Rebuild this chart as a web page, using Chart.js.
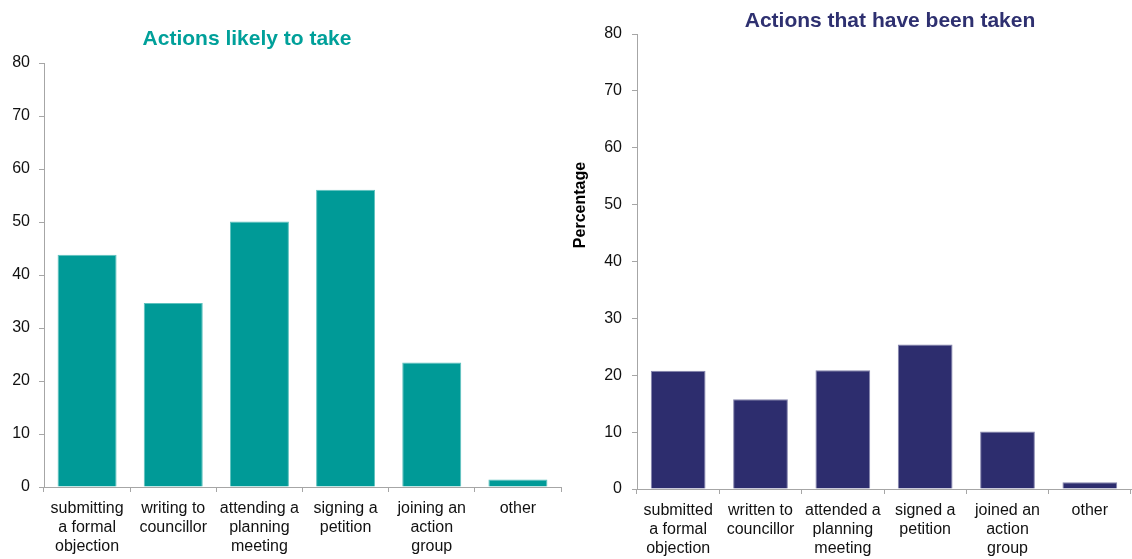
<!DOCTYPE html>
<html>
<head>
<meta charset="utf-8">
<script src="https://cdn.jsdelivr.net/npm/chart.js@4/dist/chart.umd.min.js"></script>
<style>
  html, body { margin: 0; padding: 0; background: #fff; }
  #wrap { position: relative; width: 1132px; height: 559px; }
  canvas { position: absolute; top: 0; }
  #likely { left: 0; }
  #taken { left: 566px; }
</style>
</head>
<body>
<div id="wrap">
  <canvas id="likely" width="566" height="559"></canvas>
  <canvas id="taken" width="566" height="559"></canvas>
</div>
<script>
// categories (tick labels split onto lines)
const likelyLabels = [
  ["submitting", "a formal", "objection"],
  ["writing to", "councillor"],
  ["attending a", "planning", "meeting"],
  ["signing a", "petition"],
  ["joining an", "action", "group"],
  ["other"]
];
const takenLabels = [
  ["submitted", "a formal", "objection"],
  ["written to", "councillor"],
  ["attended a", "planning", "meeting"],
  ["signed a", "petition"],
  ["joined an", "action", "group"],
  ["other"]
];

// percentages
const likelyValues = [43.8, 34.7, 50.1, 56.1, 23.5, 1.4];
const takenValues = [20.8, 15.8, 20.9, 25.4, 10.1, 1.2];

const FONT = '"Liberation Sans", Arial, sans-serif';
const AXIS = "#a6a6a6";
const TEAL = "#009a97";
const NAVY = "#2d2d6e";

Chart.defaults.font.family = FONT;
Chart.defaults.font.size = 16;
Chart.defaults.color = "#111";

// heading text and the rotated axis caption drawn on the canvas
const textPlugin = {
  id: "headings",
  afterDraw(chart, args, opts) {
    const ctx = chart.ctx;
    ctx.save();
    ctx.font = "bold 21px " + FONT;
    ctx.fillStyle = opts.color;
    ctx.textAlign = "center";
    ctx.textBaseline = "alphabetic";
    ctx.fillText(opts.text, opts.x, opts.y);
    if (opts.yTitle) {
      ctx.translate(opts.yTitle.x, opts.yTitle.y);
      ctx.rotate(-Math.PI / 2);
      ctx.font = "bold 16px " + FONT;
      ctx.fillStyle = "#000";
      ctx.fillText(opts.yTitle.text, 0, 0);
    }
    ctx.restore();
  }
};

function makeChart(id, labels, values, color, edge, o) {
  return new Chart(document.getElementById(id), {
    type: "bar",
    data: {
      labels: labels,
      datasets: [{
        data: values,
        backgroundColor: color,
        borderColor: edge,
        borderWidth: 1,
        categoryPercentage: 1,
        barPercentage: o.bar
      }]
    },
    options: {
      responsive: false,
      animation: false,
      devicePixelRatio: 1,
      layout: { padding: { top: o.top, right: o.right, left: 0, bottom: 0 } },
      plugins: {
        legend: { display: false },
        tooltip: { enabled: false },
        headings: o.heading
      },
      scales: {
        x: {
          afterFit: s => { s.height = o.xHeight; },
          grid: { drawOnChartArea: false, drawTicks: true, tickLength: 5, color: AXIS, offset: true },
          border: { color: AXIS, width: 1 },
          ticks: { padding: 7, maxRotation: 0, autoSkip: false, font: { size: 16, lineHeight: 1.2 } }
        },
        y: {
          min: 0,
          max: 80,
          afterFit: s => { s.width = o.yWidth; },
          grid: { drawOnChartArea: false, drawTicks: true, tickLength: 5, color: AXIS },
          border: { color: AXIS, width: 1 },
          ticks: { stepSize: 10, padding: o.yPad, font: { size: 16 } }
        }
      }
    },
    plugins: [textPlugin]
  });
}

makeChart("likely", likelyLabels, likelyValues, TEAL, "#5ec2be", {
  bar: 0.685, top: 63, right: 5, xHeight: 72, yWidth: 44, yPad: 9,
  heading: { text: "Actions likely to take", color: "#00a09a", x: 247, y: 45 }
});

makeChart("taken", takenLabels, takenValues, NAVY, "#8484ad", {
  bar: 0.665, top: 34, right: 1, xHeight: 70, yWidth: 71, yPad: 10,
  heading: {
    text: "Actions that have been taken", color: "#2e3070", x: 324, y: 27,
    yTitle: { text: "Percentage", x: 19, y: 205 }
  }
});
</script>
</body>
</html>
